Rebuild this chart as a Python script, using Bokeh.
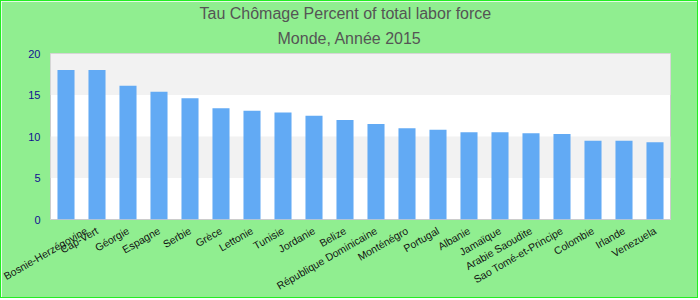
import math
from bokeh.plotting import figure
from bokeh.models import ColumnDataSource, FixedTicker, Title
from bokeh.embed import file_html
from bokeh.resources import INLINE

countries = ["Bosnie-Herzégovine", "Cap-Vert", "Géorgie", "Espagne", "Serbie", "Grèce",
             "Lettonie", "Tunisie", "Jordanie", "Belize", "République Dominicaine",
             "Monténégro", "Portugal", "Albanie", "Jamaïque", "Arabie Saoudite",
             "Sao Tomé-et-Principe", "Colombie", "Irlande", "Venezuela"]
rates = [18.0, 18.0, 16.1, 15.4, 14.6, 13.4, 13.1, 12.9, 12.5, 12.0, 11.5,
         11.0, 10.8, 10.5, 10.5, 10.4, 10.3, 9.5, 9.5, 9.3]
y_ticks = [0, 5, 10, 15, 20]
title_line1 = "Tau Chômage  Percent of total labor force"
title_line2 = "Monde, Année 2015"

BG = "#90ee90"
source = ColumnDataSource(data=dict(country=countries, rate=rates))

p = figure(x_range=countries, y_range=(0, 20), width=698, height=298,
           output_backend="svg", toolbar_location=None, title=title_line1,
           min_border_left=49, min_border_right=29, min_border_top=52, min_border_bottom=78)
p.styles = {"border": "1px solid #22ee22"}

p.title.align = "left"
p.title.offset = 149
p.title.standoff = 1
p.title.vertical_align = "top"
p.title.text_font = "Liberation Sans"
p.title.text_font_size = "16px"
p.title.text_font_style = "normal"
p.title.text_color = "#555555"
t2 = Title(text=title_line2, align="left", offset=227, standoff=10, vertical_align="top",
           text_font="Liberation Sans", text_font_size="16px",
           text_font_style="normal", text_color="#555555")
p.add_layout(t2, "above")

p.vbar(x="country", top="rate", width=0.55, source=source,
       fill_color="#62aaf4", line_color=None)

p.background_fill_color = "white"
p.border_fill_color = BG
p.outline_line_color = "#cccccc"
p.outline_line_width = 1

p.xgrid.grid_line_color = None
p.ygrid.grid_line_color = None
p.ygrid.band_fill_color = "#f2f2f2"
p.ygrid.band_fill_alpha = 1.0

p.yaxis.ticker = FixedTicker(ticks=y_ticks)
p.yaxis.axis_line_color = None
p.yaxis.major_tick_line_color = None
p.yaxis.minor_tick_line_color = None
p.yaxis.major_tick_out = 0
p.yaxis.minor_tick_out = 0
p.yaxis.major_label_text_color = "#101090"
p.yaxis.major_label_text_font = "Liberation Sans"
p.yaxis.major_label_text_font_size = "11px"
p.yaxis.major_label_standoff = 10

p.xaxis.axis_line_color = None
p.xaxis.major_tick_line_color = None
p.xaxis.major_tick_out = 0
p.xaxis.major_tick_in = 0
p.xaxis.major_label_orientation = math.pi / 6
p.xaxis.major_label_text_font = "Liberation Sans"
p.xaxis.major_label_text_font_size = "10.5px"
p.xaxis.major_label_text_color = "#111111"
p.xaxis.major_label_standoff = 10

open("out.html", "w").write(file_html(p, INLINE))
